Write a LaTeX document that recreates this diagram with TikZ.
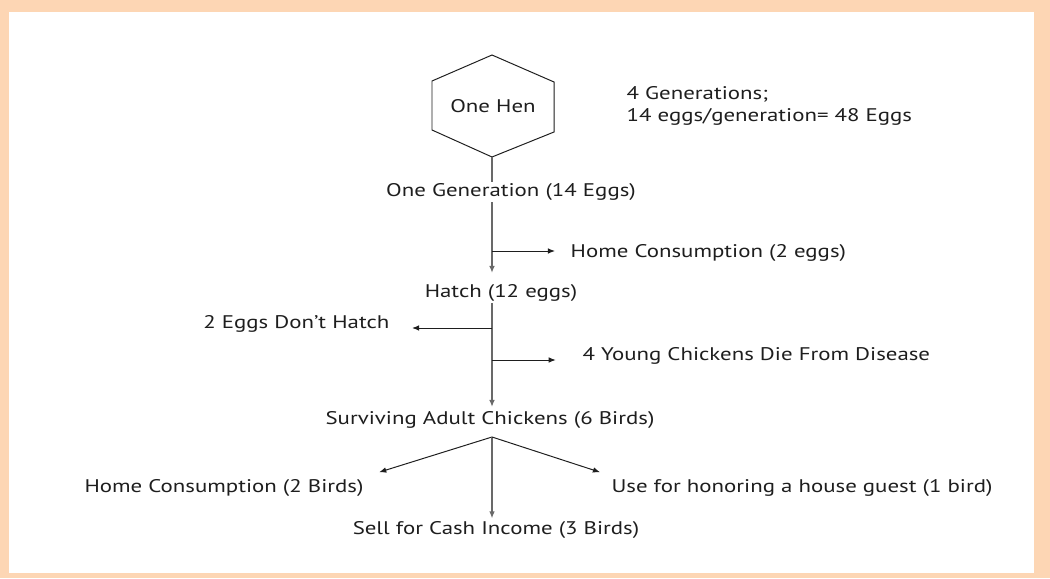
\documentclass[tikz,border=0pt]{standalone}
\usepackage{fontspec}
\setmainfont[FakeStretch=1.25]{PT Sans}
\usepackage{tikz}
\usetikzlibrary{arrows.meta}
\definecolor{framePeach}{RGB}{253,214,180}
\definecolor{inkGray}{RGB}{30,30,30}
\definecolor{trunkGray}{RGB}{105,105,105}
\tikzset{
  lbl/.style={inner sep=1pt,text=inkGray,font=\fontsize{13}{16}\selectfont},
  trunk/.style={trunkGray,line width=1.5pt},
  branch/.style={inkGray,line width=0.7pt},
  tip/.style={-{Latex[length=5pt,width=4pt]}}
}

\begin{document}
\begin{tikzpicture}[x=0.025cm,y=-0.025cm]
\useasboundingbox (0,0) rectangle (1050,578);
\fill[framePeach] (0,0) rectangle (1050,578);
\fill[white] (9,12) rectangle (1034,573);
% the hen
\draw[inkGray,line width=0.7pt] (492,55) -- (554,82) -- (554,132) -- (492,157) -- (432,130) -- (432,81) -- cycle;
\coordinate (henB) at (492,157);
\node[lbl] (hen) at (493,106) {One Hen};
\node[lbl,anchor=west,align=left] (note) at (625,106) {4 Generations;\\14 eggs/generation= 48 Eggs};
% eggs
\node[lbl] (gen) at (511,192) {One Generation (14 Eggs)};
\node[lbl,anchor=west] (eatEggs) at (569,253) {Home Consumption (2 eggs)};
\node[lbl] (hatch) at (501,293) {Hatch (12 eggs)};
\node[lbl,anchor=east] (noHatch) at (391,324) {2 Eggs Don't Hatch};
\node[lbl,anchor=west] (dead) at (581,356) {4 Young Chickens Die From Disease};
% birds
\node[lbl] (surv) at (490,420) {Surviving Adult Chickens (6 Birds)};
\node[lbl] (eatBirds) at (224,488) {Home Consumption (2 Birds)};
\node[lbl] (guest) at (802,488) {Use for honoring a house guest (1 bird)};
\node[lbl] (sell) at (496,530) {Sell for Cash Income (3 Birds)};
\coordinate (b1) at (492,251);
\coordinate (b2) at (492,328);
\coordinate (b3) at (492,360);
\coordinate (apex) at (492,437);
% connectors
\draw[trunk] (henB) -- (henB |- gen.north);
\draw[trunk,tip,shorten >=7pt] (gen.south -| henB) -- (hatch.north -| henB);
\draw[trunk,tip,shorten >=2pt] (hatch.south -| henB) -- (surv.north -| henB);
\draw[branch,tip] (b1) -- ([xshift=-10]eatEggs.west |- b1);
\draw[branch,tip] (b2) -- ([xshift=15]noHatch.east |- b2);
\draw[branch,tip] (b3) -- ([xshift=-18]dead.west |- b3);
\draw[branch,tip] (apex) -- ([xshift=10,yshift=4]eatBirds.north east);
\draw[trunk,tip] (apex) -- ([yshift=1]sell.north -| apex);
\draw[branch,tip] (apex) -- ([xshift=-7,yshift=4]guest.north west);
\end{tikzpicture}
\end{document}
